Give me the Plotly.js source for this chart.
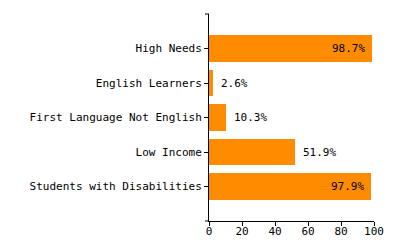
<!DOCTYPE html>
<html>
<head>
<meta charset="utf-8">
<script src="https://cdn.plot.ly/plotly-3.0.1.min.js"></script>
<style>html,body{margin:0;padding:0;background:#fff;}#chart{width:400px;height:250px;}</style>
</head>
<body>
<div id="chart"></div>
<script>
const categories = ["High Needs", "English Learners", "First Language Not English", "Low Income", "Students with Disabilities"];
const values = [98.7, 2.6, 10.3, 51.9, 97.9];
const labelInside = [true, false, false, false, true];
const xTicks = [0, 20, 40, 60, 80, 100];

const FONT = "DejaVu Sans Mono, monospace";

const trace = {
  type: "bar",
  orientation: "h",
  y: categories,
  x: values,
  width: 0.78,
  marker: {color: "#FF8C00"},
  hoverinfo: "none"
};

const annotations = values.map((v, i) => ({
  x: v,
  y: categories[i],
  xref: "x",
  yref: "y",
  text: v.toFixed(1) + "%",
  showarrow: false,
  xanchor: labelInside[i] ? "right" : "left",
  xshift: labelInside[i] ? -5 : 6,
  font: {family: FONT, size: 11, color: "#000"}
}));

const layout = {
  width: 400,
  height: 250,
  margin: {l: 209, r: 26, t: 14, b: 29, pad: 0},
  paper_bgcolor: "#fff",
  plot_bgcolor: "#fff",
  showlegend: false,
  font: {family: FONT, size: 11, color: "#000"},
  xaxis: {
    range: [0, 100],
    tickvals: xTicks,
    ticktext: xTicks.map(String),
    showgrid: false,
    zeroline: false,
    showline: true,
    linecolor: "#000",
    linewidth: 1,
    ticks: "outside",
    ticklen: 4,
    tickcolor: "#000",
    ticklabelstandoff: -4,
    tickfont: {family: FONT, size: 11, color: "#000"},
    fixedrange: true
  },
  yaxis: {
    type: "category",
    categoryorder: "array",
    categoryarray: categories,
    range: [5, -1],
    showgrid: false,
    zeroline: false,
    showline: true,
    linecolor: "#000",
    linewidth: 1,
    ticks: "outside",
    ticklen: 4,
    tickcolor: "#000",
    tickfont: {family: FONT, size: 11, color: "#000"},
    fixedrange: true
  },
  shapes: [
    {type: "line", xref: "paper", yref: "paper", xsizemode: "pixel", xanchor: 0, x0: -4, x1: 0, y0: 1, y1: 1, line: {color: "#000", width: 1}},
    {type: "line", xref: "paper", yref: "paper", xsizemode: "pixel", xanchor: 0, x0: -4, x1: 0, y0: 0, y1: 0, line: {color: "#000", width: 1}}
  ],
  annotations: annotations,
  bargap: 0
};

Plotly.newPlot("chart", [trace], layout, {displayModeBar: false, staticPlot: true});
</script>
</body>
</html>
